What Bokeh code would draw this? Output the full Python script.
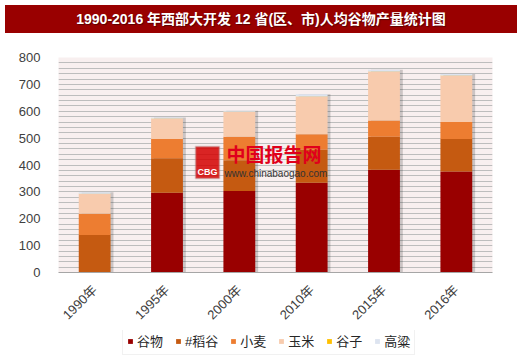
from math import pi
from bokeh.plotting import figure
from bokeh.models import (ColumnDataSource, Legend, LegendItem, SingleIntervalTicker,
                          Div, Label, BoxAnnotation, Range1d, FactorRange)
from bokeh.layouts import column
from bokeh.transform import dodge
from bokeh.embed import file_html
from bokeh.resources import INLINE

# ---- data ----
years = ["1990年", "1995年", "2000年", "2010年", "2015年", "2016年"]
guwu = [0, 297, 303, 334, 382, 376]        # 谷物
daogu = [140, 128, 115, 123, 123, 121]     # #稻谷
xiaomai = [79, 72, 87, 57, 61, 63]         # 小麦
yumi = [73, 75, 92, 140, 181, 172]         # 玉米
guzi = [1, 1, 1, 1, 1, 1]                  # 谷子
gaoliang = [6, 4, 4, 8, 6, 6]              # 高粱
series_names = ["谷物", "#稻谷", "小麦", "玉米", "谷子", "高粱"]
y_ticks_interval = 100

colors = ["#990000", "#c55a11", "#ed7d31", "#f8cbad", "#ffc000", "#dde4f0"]
keys = ["guwu", "daogu", "xiaomai", "yumi", "guzi", "gaoliang"]

data = dict(year=years, guwu=guwu, daogu=daogu, xiaomai=xiaomai, yumi=yumi,
            guzi=guzi, gaoliang=gaoliang)
data["total"] = [sum(v) for v in zip(guwu, daogu, xiaomai, yumi, guzi, gaoliang)]
source = ColumnDataSource(data)

FONT = "Liberation Sans, Noto Sans CJK SC"
W = 512

title = Div(text="1990-2016 年西部大开发 12 省(区、市)人均谷物产量统计图",
            width=W, height=28,
            styles={"background-color": "#990000", "color": "white",
                    "font-weight": "bold", "font-size": "14px",
                    "text-align": "center", "line-height": "28px",
                    "font-family": "'Liberation Sans', 'Noto Sans CJK SC', sans-serif",
                    "text-shadow": "1px 1px 1px #5a0000"})

p = figure(x_range=FactorRange(*years, range_padding=0), y_range=Range1d(0, 800),
           width=W, height=292, output_backend="svg", toolbar_location=None,
           min_border_left=58, min_border_right=20, min_border_top=19,
           min_border_bottom=54)
p.outline_line_color = None
p.border_fill_color = "white"
p.background_fill_color = "#f8efef"

# shadow
p.vbar(x=dodge("year", 0.04, range=p.x_range), top="total", width=0.44,
       source=source, fill_color="#000000", fill_alpha=0.18, line_color=None)

renderers = p.vbar_stack(keys, x="year", width=0.44, color=colors, source=source,
                         line_color=None)

# axes
p.yaxis.ticker = SingleIntervalTicker(interval=y_ticks_interval)
p.yaxis.axis_line_color = None
p.yaxis.major_tick_line_color = None
p.yaxis.minor_tick_line_color = None
p.yaxis.major_label_text_font_size = "13px"
p.yaxis.major_label_text_font = FONT
p.yaxis.major_label_text_color = "#404040"
p.yaxis.major_label_standoff = 12

p.xaxis.axis_line_color = "#a6a6a6"
p.xaxis.major_tick_line_color = None
p.xaxis.minor_tick_line_color = None
p.xaxis.major_label_orientation = pi / 4
p.xaxis.major_label_text_font_size = "13px"
p.xaxis.major_label_text_font = FONT
p.xaxis.major_label_text_color = "#404040"
p.xaxis.major_label_standoff = 9

p.xgrid.grid_line_color = None
p.ygrid.ticker = SingleIntervalTicker(interval=20)
p.ygrid.grid_line_color = "#bdbdbd"
p.ygrid.grid_line_width = 1

# watermark
p.add_layout(BoxAnnotation(left=137, right=161, bottom=94, top=126,
                           left_units="screen", right_units="screen",
                           bottom_units="screen", top_units="screen",
                           fill_color="#d40000", fill_alpha=0.85,
                           line_color="#b0b0b0", line_width=2))
p.add_layout(Label(x=139, y=96, x_units="screen", y_units="screen", text="CBG",
                   text_font_size="9px", text_font_style="bold",
                   text_color="white", text_font=FONT))
p.add_layout(Label(x=168, y=106, x_units="screen", y_units="screen",
                   text="中国报告网", text_font_size="19px",
                   text_font_style="bold", text_color="#e0001b",
                   text_font="Noto Sans CJK SC"))
p.add_layout(Label(x=166, y=94, x_units="screen", y_units="screen",
                   text="www.chinabaogao.com", text_font_size="10px",
                   text_color="#333333", text_font=FONT))

# legend strip: a small figure whose swatch renderers use the same data,
# kept far outside its visible y range
lf = figure(width=W, height=26, output_backend="svg", toolbar_location=None,
            x_range=FactorRange(*years), y_range=Range1d(5000, 5001),
            x_axis_location=None, y_axis_location=None, min_border=0)
lf.outline_line_color = None
lf.grid.grid_line_color = None
swatches = [lf.vbar(x="year", top=k, width=0.5, source=source,
                    fill_color=c, line_color=None)
            for k, c in zip(keys, colors)]
legend = Legend(items=[LegendItem(label=n, renderers=[r])
                       for n, r in zip(series_names, swatches)],
                location=(64, 1), orientation="horizontal",
                glyph_width=6, glyph_height=6, label_standoff=4, spacing=12,
                padding=4, margin=0, label_text_font_size="13px",
                label_text_font=FONT, label_text_color="#262626",
                border_line_color="#e3e3e3", background_fill_color="white",
                label_height=14)
lf.add_layout(legend, "center")

layout = column(title, p, lf, spacing=0)
open("out.html", "w").write(file_html(layout, INLINE))
